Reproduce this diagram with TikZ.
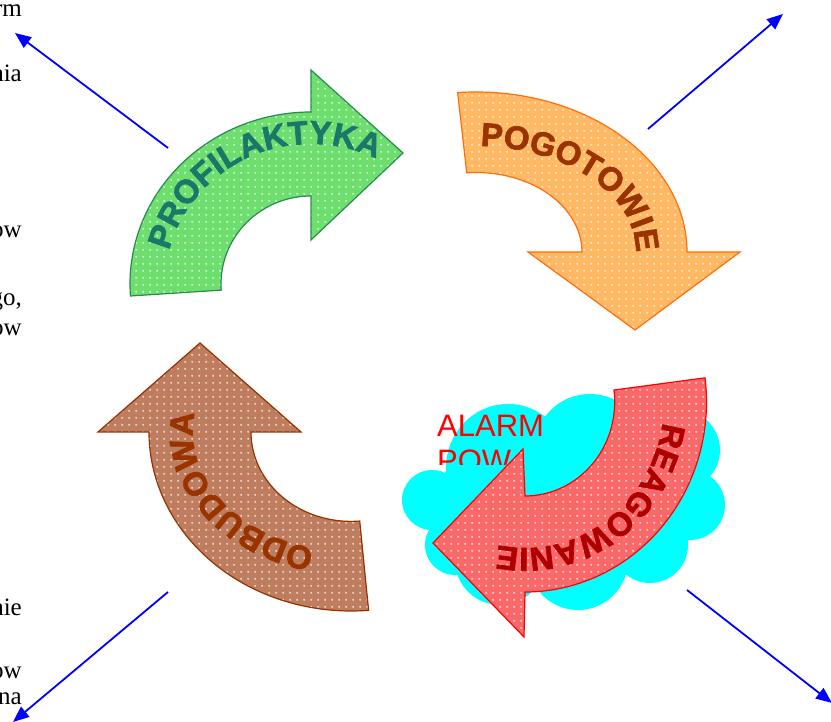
\documentclass[tikz,border=0pt]{standalone}
\usepackage{fontspec}
\setmainfont{Liberation Serif}
\setsansfont{Liberation Sans}
\newfontfamily\arcfam{Liberation Sans Bold}[FakeBold=2]
\usetikzlibrary{arrows.meta,decorations.text,patterns}

\pgfdeclarepatternformonly{wplus}{\pgfqpoint{0pt}{0pt}}{\pgfqpoint{7pt}{7pt}}{\pgfqpoint{7pt}{7pt}}{%
  \pgfsetlinewidth{0.7pt}%
  \pgfpathmoveto{\pgfqpoint{2.3pt}{3.5pt}}\pgfpathlineto{\pgfqpoint{4.7pt}{3.5pt}}%
  \pgfpathmoveto{\pgfqpoint{3.5pt}{2.3pt}}\pgfpathlineto{\pgfqpoint{3.5pt}{4.7pt}}%
  \pgfusepath{stroke}}

\definecolor{gfill}{RGB}{110,222,110}
\definecolor{gline}{RGB}{40,140,80}
\definecolor{gtext}{RGB}{25,120,105}
\definecolor{ofill}{RGB}{255,185,100}
\definecolor{oline}{RGB}{255,110,10}
\definecolor{btext}{RGB}{153,51,0}
\definecolor{bfill}{RGB}{190,125,95}
\definecolor{bline}{RGB}{150,50,0}
\definecolor{rfill}{RGB}{250,105,105}
\definecolor{rline}{RGB}{255,0,0}
\definecolor{rtext}{RGB}{175,0,0}
\definecolor{cloudc}{RGB}{0,255,255}
\definecolor{connc}{RGB}{0,0,255}

\newcommand\arcfont{\arcfam\fontsize{33}{33}\selectfont}

\tikzset{
  bigarrow/.style 2 args={preaction={fill=#1}, pattern=wplus, pattern color=white,
    draw=#2, line width=1.2pt, line join=miter},
  arctext/.style={decorate, decoration={text along path, text={#1}, text align=center}},
  connector/.style={draw=connc, line width=1.8pt, -{Triangle[length=16pt,width=13pt]}},
  frag/.style={font=\fontsize{25}{25}\selectfont, anchor=base east, inner sep=0pt},
  alarmfont/.style={font=\sffamily\fontsize{31}{31}\selectfont, text=red, anchor=base west, inner sep=0pt},
  cloudpart/.style={fill=cloudc, draw=none},
}

\begin{document}
\begin{tikzpicture}[x=1pt,y=1pt]
\useasboundingbox (0,0) rectangle (831,722);
\fill[white] (0,0) rectangle (831,722);
\clip (0,0) rectangle (831,722);

% left text fragments
\node[frag] (f1) at (22,705) {rm};
\node[frag] (f2) at (22,640) {nia};
\node[frag] (f3) at (22,484) {ow};
\node[frag] (f4) at (22,416) {go,};
\node[frag] (f5) at (22,386) {ow};
\node[frag] (f6) at (22,106) {nie};
\node[frag] (f7) at (22,43) {ow};
\node[frag] (f8) at (22,17) {na};

% cloud
\path[cloudpart] (432,222) circle[radius=30pt];
\path[cloudpart] (455,177) circle[radius=30pt];
\path[cloudpart] (508,254) ellipse[x radius=62pt, y radius=64pt];
\path[cloudpart] (590,272) circle[radius=56pt];
\path[cloudpart] (680,272) circle[radius=40pt];
\path[cloudpart] (690,217) circle[radius=35pt];
\path[cloudpart] (650,177) circle[radius=38pt];
\path[cloudpart] (578,162) circle[radius=50pt];
\path[cloudpart] (500,162) circle[radius=45pt];
\path[cloudpart] (570,227) ellipse[x radius=130pt, y radius=80pt];

% alarm text
\node[alarmfont] (alarm) at (437,285) {ALARM};
\begin{scope}
  \clip (430,257) rectangle (560,300);
  \node[alarmfont] (pow) at (437,250) {POW};
\end{scope}

% green arrow PROFILAKTYKA
\begin{scope}[shift={(311,438)}]
  \path[bigarrow={gfill}{gline}] (184:181pt and 172pt)
    arc[start angle=184, end angle=90, x radius=181pt, y radius=172pt]
    -- (0,214) -- (92,131) -- (0,44) -- (0,88)
    arc[start angle=90, end angle=184, x radius=90pt, y radius=88pt] -- cycle;
  \path[arctext={|\arcfont\color{gtext}|PROFILAKTYKA}] (180:146pt and 140pt)
    arc[start angle=180, end angle=50, x radius=146pt, y radius=140pt];
\end{scope}

% orange arrow POGOTOWIE
\begin{scope}[shift={(476,470)}]
  \path[bigarrow={ofill}{oline}] (95:211pt and 160pt)
    arc[start angle=95, end angle=0, x radius=211pt, y radius=160pt]
    -- (264,0) -- (159,-78) -- (52,0) -- (106,0)
    arc[start angle=0, end angle=95, x radius=106pt, y radius=79.5pt] -- cycle;
  \path[arctext={|\arcfont\color{btext}|POGOTOWIE}] (97:160pt and 106pt)
    arc[start angle=97, end angle=-13, x radius=160pt, y radius=106pt];
\end{scope}

% brown arrow ODBUDOWA
\begin{scope}[shift={(351,290)}]
  \path[bigarrow={bfill}{bline}] (180:202pt and 179pt)
    arc[start angle=180, end angle=275, x radius=202pt, y radius=179pt]
    -- (275:100pt and 89.4pt)
    arc[start angle=275, end angle=180, x radius=100pt, y radius=89.4pt]
    -- (-50,0) -- (-151,89) -- (-253,0) -- cycle;
  \path[arctext={|\arcfont\color{btext}|ODBUDOWA}] (265:158pt and 120pt)
    arc[start angle=265, end angle=160, x radius=158pt, y radius=120pt];
\end{scope}

% red arrow REAGOWANIE
\begin{scope}[shift={(525,320)}]
  \path[bigarrow={rfill}{rline}] (7.3:181.5pt and 190pt)
    arc[start angle=7.3, end angle=-90, x radius=181.5pt, y radius=190pt]
    -- (-1,-235) -- (-92,-141) -- (-2,-47) -- (0,-94)
    arc[start angle=-90, end angle=7.3, x radius=89.7pt, y radius=94pt] -- cycle;
  \path[arctext={|\arcfont\color{rtext}|REAGOWANIE}] (5:139pt and 146pt)
    arc[start angle=5, end angle=-115, x radius=139pt, y radius=146pt];
\end{scope}

% blue connectors
\coordinate (tlA) at (168,574); \coordinate (tlB) at (15,689);
\coordinate (trA) at (648,593); \coordinate (trB) at (783,708);
\coordinate (blA) at (168,130); \coordinate (blB) at (13,0);
\coordinate (brA) at (687,132); \coordinate (brB) at (832,19);
\draw[connector] (tlA) -- (tlB);
\draw[connector] (trA) -- (trB);
\draw[connector] (blA) -- (blB);
\draw[connector] (brA) -- (brB);
\end{tikzpicture}
\end{document}
